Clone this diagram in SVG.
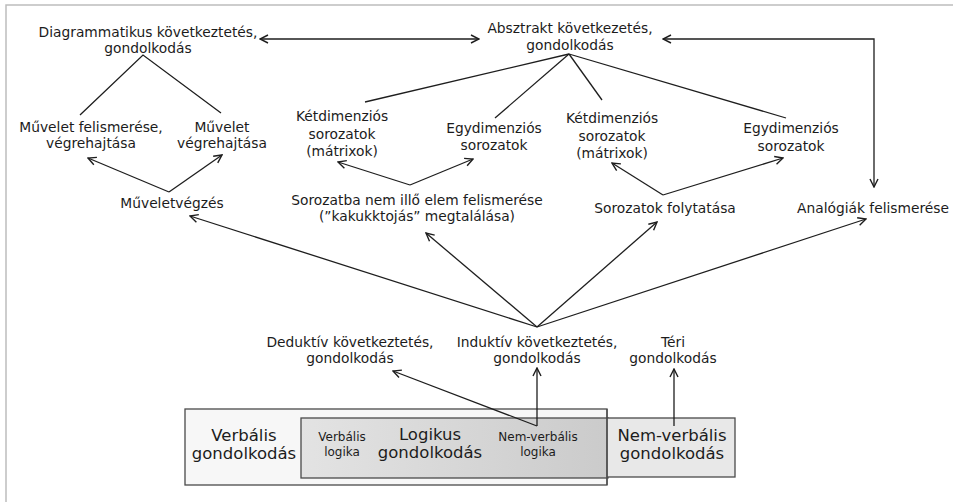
<svg xmlns="http://www.w3.org/2000/svg" width="953" height="502" viewBox="0 0 953 502">
  <defs>
    <marker id="arr" viewBox="0 0 10 10" refX="9" refY="5" markerWidth="10" markerHeight="10" markerUnits="userSpaceOnUse" orient="auto-start-reverse">
      <polyline points="1,1 9,5 1,9" fill="none" stroke="#1e1e1e" stroke-width="1.4"/>
    </marker>
    <linearGradient id="logGrad" x1="0" y1="0" x2="1" y2="0">
      <stop offset="0" stop-color="#e3e3e3"/>
      <stop offset="1" stop-color="#cbcbcb"/>
    </linearGradient>
    <style>
      text { font-family: "DejaVu Sans", Verdana, sans-serif; fill: #1c1c1c; text-anchor: middle; }
      .t { font-size: 13.8px; }
      .big { font-size: 16.5px; }
      .small { font-size: 12px; }
      .ln { stroke: #1e1e1e; stroke-width: 1.3; fill: none; }
      .ar { stroke: #1e1e1e; stroke-width: 1.3; fill: none; marker-end: url(#arr); }
      .both { marker-start: url(#arr); }
      .box { stroke: #4a4a4a; stroke-width: 1.3; }
    </style>
  </defs>

  <rect width="953" height="502" fill="#ffffff"/>
  <!-- outer frame -->
  <path d="M6,502 V5 H953" fill="none" stroke="#bdbdbd" stroke-width="1.5"/>

  <!-- bottom boxes -->
  <g id="verbalis">
    <rect class="box" x="185" y="409" width="422" height="76" fill="#f7f7f7"/>
    <text class="big" x="244" y="441">Verbális</text>
    <text class="big" x="244" y="459">gondolkodás</text>
  </g>
  <g id="logikus">
    <rect class="box" x="301" y="418" width="307" height="60" fill="url(#logGrad)"/>
    <text class="big" x="430" y="440">Logikus</text>
    <text class="big" x="430" y="458">gondolkodás</text>
    <text class="small" x="342" y="441">Verbális</text>
    <text class="small" x="342" y="456">logika</text>
    <text class="small" x="538" y="441">Nem-verbális</text>
    <text class="small" x="538" y="456">logika</text>
  </g>
  <g id="nemverbalis">
    <rect class="box" x="607" y="418" width="128" height="59" fill="#e8e8e8"/>
    <text class="big" x="672" y="441">Nem-verbális</text>
    <text class="big" x="672" y="459">gondolkodás</text>
  </g>
  <path d="M607,409 V485" class="box" fill="none"/>

  <!-- connectors -->
  <g id="connectors">
    <line class="ar both" x1="260" y1="39" x2="479" y2="39"/>
    <path class="ar both" d="M663,39 H874 V187"/>

    <polyline class="ln" points="80,115 143,55 221,113"/>
    <line class="ln" x1="569" y1="54" x2="365" y2="102"/>
    <line class="ln" x1="569" y1="54" x2="495" y2="118"/>
    <line class="ln" x1="569" y1="54" x2="602" y2="100"/>
    <line class="ln" x1="569" y1="54" x2="786" y2="118"/>

    <line class="ar" x1="169" y1="192" x2="88" y2="158"/>
    <line class="ar" x1="169" y1="192" x2="222" y2="155"/>
    <line class="ar" x1="410" y1="185" x2="338" y2="162"/>
    <line class="ar" x1="410" y1="185" x2="473" y2="159"/>
    <line class="ar" x1="663" y1="195" x2="612" y2="163"/>
    <line class="ar" x1="663" y1="195" x2="783" y2="158"/>

    <line class="ar" x1="537" y1="327" x2="190" y2="216"/>
    <line class="ar" x1="537" y1="327" x2="426" y2="233"/>
    <line class="ar" x1="537" y1="327" x2="657" y2="222"/>
    <line class="ar" x1="537" y1="327" x2="866" y2="219"/>

    <line class="ar" x1="537" y1="426" x2="537" y2="368"/>
    <line class="ar" x1="537" y1="426" x2="393" y2="371"/>
    <line class="ar" x1="674" y1="426" x2="674" y2="369"/>
  </g>

  <!-- nodes -->
  <g id="diagrammatikus">
    <text class="t" x="148" y="37">Diagrammatikus következtetés,</text>
    <text class="t" x="148" y="53">gondolkodás</text>
  </g>
  <g id="absztrakt">
    <text class="t" x="570" y="33">Absztrakt következetés,</text>
    <text class="t" x="570" y="50">gondolkodás</text>
  </g>
  <g id="muvelet-felismerese">
    <text class="t" x="91" y="132">Művelet felismerése,</text>
    <text class="t" x="91" y="148">végrehajtása</text>
  </g>
  <g id="muvelet-vegrehajtasa">
    <text class="t" x="222" y="132">Művelet</text>
    <text class="t" x="222" y="148">végrehajtása</text>
  </g>
  <g id="ketdim-1">
    <text class="t" x="342" y="121">Kétdimenziós</text>
    <text class="t" x="342" y="139">sorozatok</text>
    <text class="t" x="342" y="156">(mátrixok)</text>
  </g>
  <g id="egydim-1">
    <text class="t" x="494" y="133">Egydimenziós</text>
    <text class="t" x="494" y="150">sorozatok</text>
  </g>
  <g id="ketdim-2">
    <text class="t" x="612" y="123">Kétdimenziós</text>
    <text class="t" x="612" y="141">sorozatok</text>
    <text class="t" x="612" y="158">(mátrixok)</text>
  </g>
  <g id="egydim-2">
    <text class="t" x="791" y="133">Egydimenziós</text>
    <text class="t" x="791" y="151">sorozatok</text>
  </g>
  <g id="muveletvegzes">
    <text class="t" x="172" y="208">Műveletvégzés</text>
  </g>
  <g id="sorozatba">
    <text class="t" x="417" y="205">Sorozatba nem illő elem felismerése</text>
    <text class="t" x="417" y="221">(”kakukktojás” megtalálása)</text>
  </g>
  <g id="sorozatok-folytatasa">
    <text class="t" x="665" y="213">Sorozatok folytatása</text>
  </g>
  <g id="analogiak">
    <text class="t" x="873" y="213">Analógiák felismerése</text>
  </g>
  <g id="deduktiv">
    <text class="t" x="350" y="347">Deduktív következtetés,</text>
    <text class="t" x="350" y="363">gondolkodás</text>
  </g>
  <g id="induktiv">
    <text class="t" x="537" y="347">Induktív következtetés,</text>
    <text class="t" x="537" y="363">gondolkodás</text>
  </g>
  <g id="teri">
    <text class="t" x="673" y="347">Téri</text>
    <text class="t" x="673" y="363">gondolkodás</text>
  </g>
</svg>
